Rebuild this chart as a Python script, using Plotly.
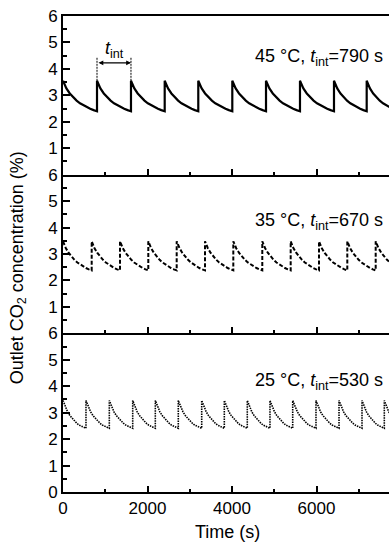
import plotly.graph_objects as go
from plotly.subplots import make_subplots

# Peak (regeneration switch) times of each run, in seconds
PEAKS_45 = [805, 1609, 2407, 3202, 4007, 4805, 5609, 6414, 7188]
PEAKS_35 = [679, 1349, 2019, 2691, 3361, 4031, 4717, 5389, 6059, 6729, 7401]
PEAKS_25 = [544, 1096, 1650, 2185, 2729, 3283, 3818, 4362, 4899, 5437, 5988, 6533, 7077, 7605]

# Outlet CO2 decay within one cycle: fraction of the cycle -> concentration (%)
CYCLE_FRAC = [0.0, 0.1, 0.2, 0.3, 0.4, 0.5, 0.6, 0.7, 0.8, 0.9, 1.0]
CYCLE_45 = [3.55, 3.26, 3.07, 2.92, 2.80, 2.70, 2.62, 2.55, 2.49, 2.44, 2.40]
CYCLE_35 = [3.48, 3.22, 3.04, 2.90, 2.78, 2.68, 2.60, 2.53, 2.47, 2.42, 2.38]
CYCLE_25 = [3.46, 3.21, 3.03, 2.89, 2.78, 2.68, 2.60, 2.53, 2.48, 2.44, 2.41]

LABELS = ["45 °C, <i>t</i><sub>int</sub>=790 s",
          "35 °C, <i>t</i><sub>int</sub>=670 s",
          "25 °C, <i>t</i><sub>int</sub>=530 s"]
X_TICKS = [0, 2000, 4000, 6000]
X_MAX = 7716

FONT = "Arial, Liberation Sans, sans-serif"


def sawtooth(peaks, cycle):
    starts = [0] + peaks
    xs, ys = [], []
    for i, s in enumerate(starts):
        if i + 1 < len(starts):
            length = starts[i + 1] - s
        else:
            length = s - starts[i - 1]
        for f, c in zip(CYCLE_FRAC, cycle):
            xs.append(s + f * length)
            ys.append(c)
    return xs, ys


fig = make_subplots(rows=3, cols=1, shared_xaxes=False, vertical_spacing=0)

runs = [
    (PEAKS_45, CYCLE_45, dict(color="black", width=2.2, dash="solid")),
    (PEAKS_35, CYCLE_35, dict(color="black", width=2.0, dash="4px,2px")),
    (PEAKS_25, CYCLE_25, dict(color="black", width=1.6, dash="1.5px,1px")),
]
for r, (peaks, cyc, line) in enumerate(runs, start=1):
    x, y = sawtooth(peaks, cyc)
    fig.add_trace(go.Scatter(x=x, y=y, mode="lines", line=line,
                             showlegend=False, hoverinfo="skip"), row=r, col=1)

for r in range(1, 4):
    fig.update_xaxes(range=[0, X_MAX], showline=True, linecolor="black", linewidth=2,
                     mirror=(r == 1), ticks="inside", ticklen=6, tickwidth=1.5,
                     tickcolor="black", tickvals=X_TICKS,
                     showticklabels=(r == 3), showgrid=False, zeroline=False,
                     minor=dict(ticks="inside", dtick=1000, tick0=0, ticklen=3,
                                tickwidth=1.5, tickcolor="black"),
                     tickfont=dict(family=FONT, size=17, color="black"),
                     row=r, col=1)
    yvals = [0, 1, 2, 3, 4, 5, 6] if r == 3 else [1, 2, 3, 4, 5, 6]
    fig.update_yaxes(range=[0, 6], showline=True, linecolor="black", linewidth=2,
                     ticks="inside", ticklen=7, tickwidth=1.5, tickcolor="black",
                     tickvals=yvals, showgrid=False, zeroline=False,
                     minor=dict(ticks="inside", dtick=0.5, tick0=0, ticklen=4,
                                tickwidth=1.5, tickcolor="black"),
                     tickfont=dict(family=FONT, size=17, color="black"),
                     row=r, col=1)

label_y = [4.42, 4.24, 4.17]
for r, (txt, ly) in enumerate(zip(LABELS, label_y), start=1):
    fig.add_annotation(text=txt, xref="x domain" if r == 1 else f"x{r} domain",
                       yref="y" if r == 1 else f"y{r}", x=0.988, y=ly,
                       xanchor="right", yanchor="middle", showarrow=False,
                       font=dict(family=FONT, size=18, color="black"))

# t_int marker between the first two peaks of the 45 °C run
t0, t1 = PEAKS_45[0], PEAKS_45[1]
for t in (t0, t1):
    fig.add_shape(type="line", x0=t, x1=t, y0=CYCLE_45[0], y1=4.45, xref="x", yref="y",
                  line=dict(color="black", width=1, dash="2px,1px"))
fig.add_annotation(x=t1, y=4.23, ax=t0, ay=4.23, xref="x", yref="y", axref="x", ayref="y",
                   text="", showarrow=True, arrowhead=2, arrowside="end+start",
                   arrowsize=0.8, arrowwidth=1.2, arrowcolor="black")
fig.add_annotation(x=(t0 + t1) / 2, y=4.72, xref="x", yref="y",
                   text="<i>t</i><sub>int</sub>", showarrow=False,
                   font=dict(family=FONT, size=18, color="black"))

fig.add_annotation(text="Time (s)", xref="paper", yref="paper", x=0.506, y=-0.084,
                   xanchor="center", yanchor="middle", showarrow=False,
                   font=dict(family=FONT, size=18, color="black"))
fig.add_annotation(text="Outlet CO<sub>2</sub> concentration (%)", xref="paper",
                   yref="paper", x=-0.138, y=0.47, textangle=-90,
                   xanchor="center", yanchor="middle", showarrow=False,
                   font=dict(family=FONT, size=18, color="black"))

fig.update_layout(width=389, height=543, margin=dict(l=63, r=0, t=16, b=51),
                  paper_bgcolor="white", plot_bgcolor="white")

fig.write_html("out.html")
